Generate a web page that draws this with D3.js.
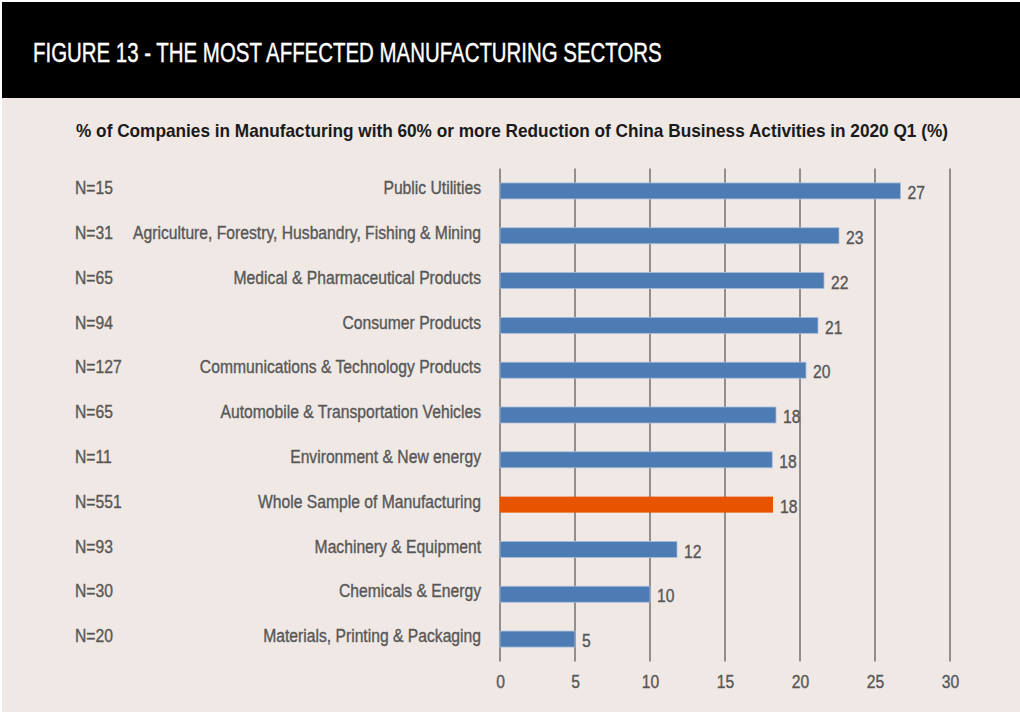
<!DOCTYPE html>
<html>
<head>
<meta charset="utf-8">
<script src="https://cdn.jsdelivr.net/npm/d3@7"></script>
<style>
  html, body { margin: 0; padding: 0; background: #ffffff; }
  svg { display: block; }
  text { font-family: "Liberation Sans", Arial, sans-serif; }
</style>
</head>
<body>
<svg id="chart"></svg>
<script>
// Most affected manufacturing sectors

const categories = [
  'Public Utilities',
  'Agriculture, Forestry, Husbandry, Fishing & Mining',
  'Medical & Pharmaceutical Products',
  'Consumer Products',
  'Communications & Technology Products',
  'Automobile & Transportation Vehicles',
  'Environment & New energy',
  'Whole Sample of Manufacturing',
  'Machinery & Equipment',
  'Chemicals & Energy',
  'Materials, Printing & Packaging'
];
const sampleSizes = ['N=15', 'N=31', 'N=65', 'N=94', 'N=127', 'N=65', 'N=11', 'N=551', 'N=93', 'N=30', 'N=20'];
const values = [26.7, 22.6, 21.6, 21.2, 20.4, 18.4, 18.15, 18.2, 11.8, 10.0, 5.0];
const valueLabels = ['27', '23', '22', '21', '20', '18', '18', '18', '12', '10', '5'];
const highlight = 'Whole Sample of Manufacturing';
const xTicks = [0, 5, 10, 15, 20, 25, 30];

const width = 1020;
const height = 714;
const labelColor = '#575757';

const svg = d3.select('#chart')
  .attr('width', width)
  .attr('height', height);

// squeeze a text horizontally around its anchor x to mimic a condensed face
function condense(sel, x, y, k) {
  sel.attr('x', 0).attr('y', 0)
    .attr('transform', `translate(${x},${y}) scale(${k},1)`);
}

// Page background and header band
svg.append('rect')
  .attr('x', 2).attr('y', 2)
  .attr('width', width - 2).attr('height', height - 4)
  .style('fill', '#efe8e5');

svg.append('rect')
  .attr('x', 2).attr('y', 2)
  .attr('width', width - 2).attr('height', 96)
  .style('fill', '#000000');

const title = svg.append('text')
  .style('font-size', '28px')
  .style('fill', '#ffffff')
  .style('stroke', '#ffffff')
  .style('stroke-width', 0.4)
  .text('FIGURE 13 - THE MOST AFFECTED MANUFACTURING SECTORS');
condense(title, 33, 62, 629 / title.node().getComputedTextLength());

const subtitle = svg.append('text')
  .attr('text-anchor', 'middle')
  .style('font-size', '17.5px')
  .style('font-weight', 'bold')
  .style('fill', '#1a1a1a')
  .text('% of Companies in Manufacturing with 60% or more Reduction of China Business Activities in 2020 Q1 (%)');
condense(subtitle, 512, 137, 872 / subtitle.node().getComputedTextLength());

// Scales
const xScale = d3.scaleLinear()
  .domain([0, 30])
  .range([500, 950]);

const yScale = d3.scaleBand()
  .domain(categories)
  .range([168.6, 661.4])
  .paddingInner(0.643)
  .paddingOuter(0.32);

const [yTop, yBottom] = yScale.range();
const mid = d => yScale(d) + yScale.bandwidth() / 2;

// Vertical grid lines
svg.append('g')
  .attr('class', 'grid')
  .selectAll('line')
  .data(xTicks)
  .enter()
  .append('line')
  .attr('x1', d => xScale(d))
  .attr('x2', d => xScale(d))
  .attr('y1', yTop)
  .attr('y2', yBottom)
  .style('stroke', '#7b7776')
  .style('stroke-width', 1.6);

// Bars
svg.append('g')
  .selectAll('rect')
  .data(categories)
  .enter()
  .append('rect')
  .attr('x', xScale(0))
  .attr('y', d => yScale(d))
  .attr('width', (d, i) => xScale(values[i]) - xScale(0))
  .attr('height', yScale.bandwidth())
  .style('fill', d => d === highlight ? '#e85300' : '#4d7bb3')
  .style('stroke', d => d === highlight ? 'none' : '#a9bfdc')
  .style('stroke-width', 0.8);

// shared look of the grey labels
function greyLabel(sel) {
  sel.attr('dy', '0.35em')
    .style('font-size', '17.5px')
    .style('fill', labelColor)
    .style('stroke', labelColor)
    .style('stroke-width', 0.35);
}

// Category labels, measured first to get the squeeze factor
const catLabels = svg.append('g')
  .selectAll('text')
  .data(categories)
  .enter()
  .append('text')
  .attr('text-anchor', 'end')
  .call(greyLabel)
  .text(d => d);

const longest = d3.max(catLabels.nodes(), n => n.getComputedTextLength());
const k = 348 / longest;

catLabels.each(function(d) { condense(d3.select(this), 481, mid(d) - 3, k); });

// Sample size labels
svg.append('g')
  .selectAll('text')
  .data(categories)
  .enter()
  .append('text')
  .call(greyLabel)
  .text((d, i) => sampleSizes[i])
  .each(function(d) { condense(d3.select(this), 75, mid(d) - 3, k); });

// Value labels
svg.append('g')
  .selectAll('text')
  .data(categories)
  .enter()
  .append('text')
  .call(greyLabel)
  .text((d, i) => valueLabels[i])
  .each(function(d, i) { condense(d3.select(this), xScale(values[i]) + 7, mid(d) + 2, k); });

// X axis tick labels
const xAxis = d3.axisBottom(xScale)
  .tickValues(xTicks)
  .tickSize(0)
  .tickPadding(0)
  .tickFormat(d3.format('d'));

svg.append('g')
  .attr('class', 'axis x-axis')
  .attr('transform', `translate(0,${yBottom + 14})`)
  .call(xAxis)
  .call(g => g.select('.domain').remove())
  .selectAll('text')
  .attr('dy', '0.71em')
  .attr('transform', `scale(${k},1)`)
  .style('font-family', '"Liberation Sans", Arial, sans-serif')
  .style('font-size', '17.5px')
  .style('fill', labelColor)
  .style('stroke', labelColor)
  .style('stroke-width', 0.35);
</script>
</body>
</html>
